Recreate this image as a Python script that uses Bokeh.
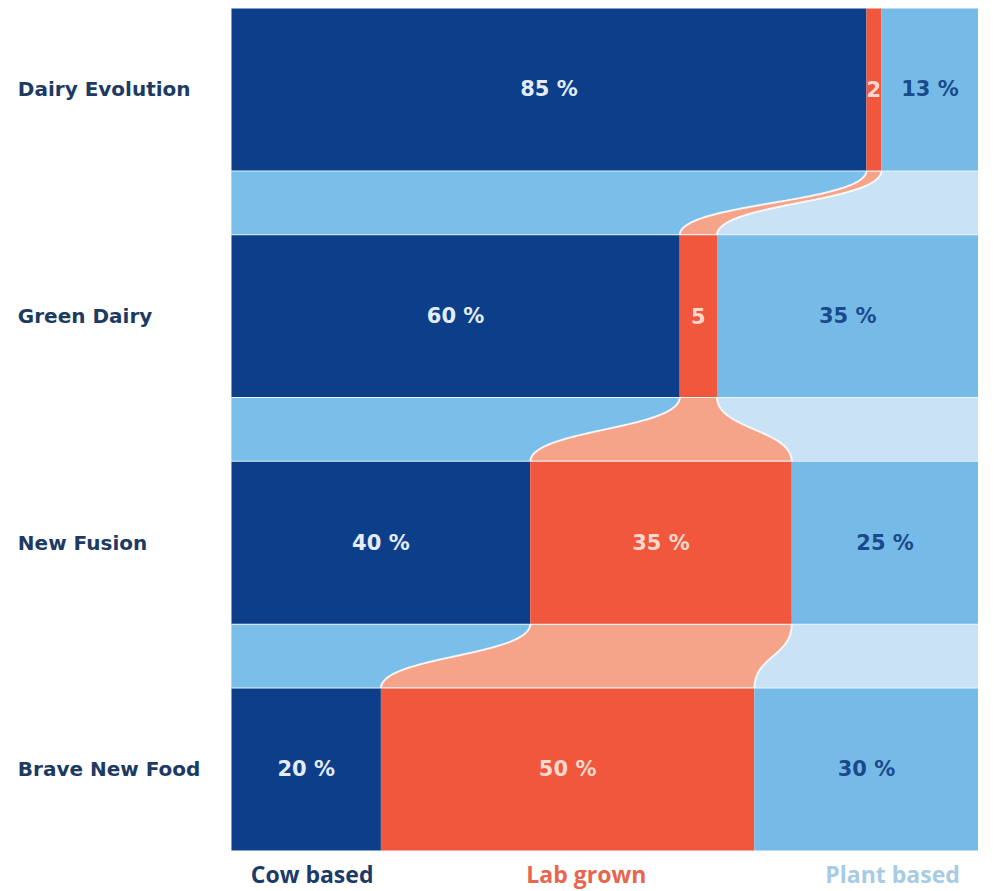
import numpy as np
from bokeh.plotting import figure
from bokeh.models import Range1d, ColumnDataSource
from bokeh.core.properties import value
from bokeh.embed import file_html
from bokeh.resources import INLINE

# ---- data ----
scenarios = ["Dairy Evolution", "Green Dairy", "New Fusion", "Brave New Food"]
cow = [85, 60, 40, 20]
lab = [2, 5, 35, 50]
plant = [13, 35, 25, 30]
categories = ["Cow based", "Lab grown", "Plant based"]

# ---- layout constants ----
BAR_H = 1.0
GAP = 0.4
X_MIN = -30.92
Y_TOP = -0.0494
FIG_H = 890
Y_MAX = (FIG_H - 8) / 161.9
FONT = "DejaVu Sans"

COW_C = "#0C3E89"
LAB_C = "#F0573C"
PLANT_C = "#76BAE7"
GAP_COW = "#7ABEEA"
GAP_LAB = "#F5A48A"
GAP_PLANT = "#C9E2F5"

p = figure(width=978, height=FIG_H, x_range=Range1d(X_MIN, 100),
           y_range=Range1d(Y_MAX, Y_TOP), output_backend="svg",
           toolbar_location=None, min_border=0,
           x_axis_location=None, y_axis_location=None)
p.grid.visible = False
p.outline_line_color = None
p.background_fill_color = "white"
p.border_fill_color = "white"

n = len(scenarios)
tops = np.array([i * (BAR_H + GAP) for i in range(n)])
bots = tops + BAR_H
cow_a = np.array(cow, dtype=float)
lab_a = np.array(lab, dtype=float)
plant_a = np.array(plant, dtype=float)
lab_end = cow_a + lab_a

# ---- gaps with flows ----
def bez(xa, xb, y0, y1, m=80):
    t = np.linspace(0, 1, m)
    ym = (y0 + y1) / 2
    x = (1 - t) ** 3 * xa + 3 * (1 - t) ** 2 * t * xa + 3 * (1 - t) * t ** 2 * xb + t ** 3 * xb
    y = (1 - t) ** 3 * y0 + 3 * (1 - t) ** 2 * t * ym + 3 * (1 - t) * t ** 2 * ym + t ** 3 * y1
    return x, y

for i in range(n - 1):
    y0, y1 = bots[i], tops[i + 1]
    p.quad(left=0, right=100, top=y0, bottom=y1, fill_color=GAP_PLANT, line_color=None)
    lx, ly = bez(cow_a[i], cow_a[i + 1], y0, y1)
    rx, ry = bez(lab_end[i], lab_end[i + 1], y0, y1)
    px = np.concatenate([[0], lx, [0]])
    py = np.concatenate([[y0], ly, [y1]])
    p.patch(px, py, fill_color=GAP_COW, line_color=None)
    bx = np.concatenate([lx, rx[::-1]])
    by = np.concatenate([ly, ry[::-1]])
    p.patch(bx, by, fill_color=GAP_LAB, line_color="white", line_width=2, line_alpha=0.85)
    p.segment(x0=[0, 0], x1=[100, 100], y0=[y0, y1], y1=[y0, y1],
              line_color="#E8F4FC", line_width=2)

# ---- bars ----
src = ColumnDataSource(dict(top=tops, bottom=bots, cow=cow_a, lab_end=lab_end,
                            zero=np.zeros(n), hundred=np.full(n, 100.0)))
p.quad(left="zero", right="cow", top="top", bottom="bottom", source=src,
       fill_color=COW_C, line_color=None)
p.quad(left="cow", right="lab_end", top="top", bottom="bottom", source=src,
       fill_color=LAB_C, line_color=None)
p.quad(left="lab_end", right="hundred", top="top", bottom="bottom", source=src,
       fill_color=PLANT_C, line_color=None)

# ---- value labels ----
def fmt(v):
    return f"{v} %" if v >= 10 else str(v)

mid = (tops + bots) / 2
common = dict(text_align="center", text_baseline="middle", text_font=value(FONT),
              text_font_style="bold", text_font_size="21px")
p.text(x=cow_a / 2, y=mid, text=[fmt(v) for v in cow], text_color="#E3ECF7", **common)
p.text(x=cow_a + lab_a / 2, y=mid, text=[fmt(v) for v in lab], text_color="#FBD9CF", **common)
p.text(x=lab_end + plant_a / 2, y=mid, text=[fmt(v) for v in plant], text_color="#1B4A8C", **common)

# ---- scenario labels ----
p.text(x=np.full(n, -28.6), y=mid, text=scenarios, text_align="left",
       text_baseline="middle", text_font=value(FONT), text_font_style="bold",
       text_font_size="20px", text_color="#1D3B62")

# ---- category labels ----
cat_x = [10.8, 47.5, 88.5]
cat_colors = ["#1C3A68", "#E8654E", "#A7CBE4"]
p.text(x=cat_x, y=[(874 - 8) / 161.9] * 3, text=categories, text_align="center",
       text_baseline="middle", text_font=value("Open Sans"), text_font_style="bold",
       text_font_size="23px", text_color=cat_colors)

open("out.html", "w").write(file_html(p, INLINE))
